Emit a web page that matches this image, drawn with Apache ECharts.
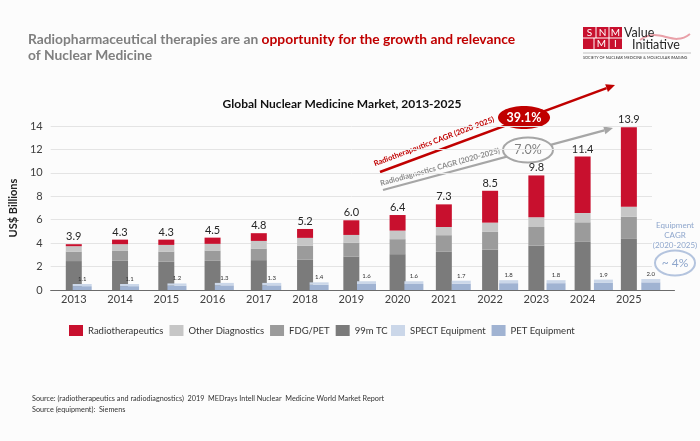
<!DOCTYPE html>
<html>
<head>
<meta charset="utf-8">
<script src="https://cdn.jsdelivr.net/npm/echarts@6/dist/echarts.min.js"></script>
<style>
html,body{margin:0;padding:0;background:#fcfcfc;}
#main{width:700px;height:441px;}
</style>
</head>
<body>
<div id="main"></div>
<script>
// ---- data ----
var years = ['2013','2014','2015','2016','2017','2018','2019','2020','2021','2022','2023','2024','2025'];
var tc99 = [2.47, 2.49, 2.41, 2.49, 2.55, 2.58, 2.86, 3.06, 3.26, 3.45, 3.79, 4.11, 4.36];
var fdgPet = [0.81, 0.88, 0.87, 0.88, 0.99, 1.21, 1.19, 1.28, 1.42, 1.51, 1.59, 1.67, 1.90];
var otherDiag = [0.46, 0.54, 0.57, 0.57, 0.65, 0.66, 0.65, 0.73, 0.70, 0.79, 0.83, 0.79, 0.85];
var radiotherapeutics = [0.17, 0.39, 0.45, 0.53, 0.66, 0.76, 1.25, 1.33, 1.93, 2.72, 3.57, 4.83, 6.78];
var marketTotals = [3.9, 4.3, 4.3, 4.5, 4.8, 5.2, 6.0, 6.4, 7.3, 8.5, 9.8, 11.4, 13.9];
var petEquip = [0.7, 0.7, 0.8, 0.85, 0.85, 0.95, 1.1, 1.1, 1.15, 1.25, 1.25, 1.3, 1.4];
var spectEquip = [0.4, 0.4, 0.4, 0.45, 0.45, 0.45, 0.5, 0.5, 0.55, 0.55, 0.55, 0.6, 0.6];
var equipTotals = [1.1, 1.1, 1.2, 1.3, 1.3, 1.4, 1.6, 1.6, 1.7, 1.8, 1.8, 1.9, 2.0];
var yTicks = [0, 2, 4, 6, 8, 10, 12, 14];

var F = 'Lato, "Open Sans", sans-serif';
var chart = echarts.init(document.getElementById('main'), null, {renderer: 'canvas'});

function arrowHead(x1, y1, x2, y2, len, hw) {
  var dx = x2 - x1, dy = y2 - y1, L = Math.sqrt(dx*dx + dy*dy);
  var ux = dx / L, uy = dy / L;
  var bx = x2 - ux*len, by = y2 - uy*len;
  var px = -uy*hw, py = ux*hw;
  return {tip: [x2, y2], base: [bx, by], pts: [[x2, y2], [bx+px, by+py], [bx-px, by-py]]};
}
var redA = arrowHead(380, 172, 615, 85, 9, 4);
var grayA = arrowHead(383, 190, 613, 128, 9, 4);

var option = {
  backgroundColor: '#fcfcfc',
  animation: false,
  textStyle: {fontFamily: F},
  grid: [
    {left: 36, right: 48, top: 126, bottom: 151},
    {left: 58.5, right: 25.5, top: 126, bottom: 151}
  ],
  xAxis: [
    {type: 'category', gridIndex: 0, data: years,
     axisLine: {lineStyle: {color: '#6b6b6b', width: 1}},
     axisTick: {show: false},
     axisLabel: {color: '#404040', fontSize: 11, margin: 4, fontFamily: F}},
    {type: 'category', gridIndex: 1, data: years,
     axisLine: {lineStyle: {color: '#6b6b6b', width: 1}},
     axisTick: {show: false}, axisLabel: {show: false}}
  ],
  yAxis: [
    {type: 'value', gridIndex: 0, min: yTicks[0], max: yTicks[yTicks.length-1], interval: 2,
     name: 'US$ Billions', nameLocation: 'middle', nameGap: 27, nameRotate: 90,
     nameTextStyle: {fontSize: 11, fontWeight: 'bold', color: '#222', fontFamily: F},
     axisLine: {show: false}, axisTick: {show: false},
     axisLabel: {color: '#404040', fontSize: 11, margin: 8, fontFamily: F},
     splitLine: {lineStyle: {color: '#e4e4e4', width: 1}}},
    {type: 'value', gridIndex: 1, min: 0, max: 30, show: false, splitLine: {show: false}}
  ],
  legend: [
    {left: 64, top: 320, itemWidth: 14, itemHeight: 11, itemGap: 6,
     icon: 'rect', textStyle: {fontSize: 9.5, color: '#333', fontFamily: F},
     data: ['Radiotherapeutics', 'Other Diagnostics', 'FDG/PET', '99m TC']},
    {left: 386, top: 320, itemWidth: 14, itemHeight: 11, itemGap: 6,
     icon: 'rect', textStyle: {fontSize: 9.5, color: '#333', fontFamily: F},
     data: ['SPECT Equipment', 'PET Equipment']}
  ],
  series: [
    {name: '99m TC', type: 'bar', stack: 'market', xAxisIndex: 0, yAxisIndex: 0,
     barWidth: 16, data: tc99, itemStyle: {color: '#7b7b7b'}},
    {name: 'FDG/PET', type: 'bar', stack: 'market', xAxisIndex: 0, yAxisIndex: 0,
     barWidth: 16, data: fdgPet, itemStyle: {color: '#9b9b9b'}},
    {name: 'Other Diagnostics', type: 'bar', stack: 'market', xAxisIndex: 0, yAxisIndex: 0,
     barWidth: 16, data: otherDiag, itemStyle: {color: '#c6c6c6'}},
    {name: 'Radiotherapeutics', type: 'bar', stack: 'market', xAxisIndex: 0, yAxisIndex: 0,
     barWidth: 16, data: radiotherapeutics, itemStyle: {color: '#c8102e'},
     label: {show: true, position: 'top', distance: 2, fontSize: 11, color: '#262626', fontFamily: F,
       formatter: function (p) { return marketTotals[p.dataIndex].toFixed(1); }}},
    {name: 'PET Equipment', type: 'bar', stack: 'equip', xAxisIndex: 1, yAxisIndex: 1,
     barWidth: 19, data: petEquip, itemStyle: {color: '#a0b3d2'}},
    {name: 'SPECT Equipment', type: 'bar', stack: 'equip', xAxisIndex: 1, yAxisIndex: 1,
     barWidth: 19, data: spectEquip, itemStyle: {color: '#cbd7e9'},
     label: {show: true, position: 'top', distance: 2, fontSize: 6, color: '#333', fontFamily: F,
       formatter: function (p) { return equipTotals[p.dataIndex].toFixed(1); }}}
  ],
  graphic: [
    // Headline
    {type: 'text', left: 28, top: 33, style: {
      text: '{g|Radiopharmaceutical therapies are an }{r|opportunity for the growth and relevance}',
      rich: {
        g: {fontFamily: F, fontSize: 13.8, fontWeight: 'bold', fill: '#7f7f7f'},
        r: {fontFamily: F, fontSize: 13.8, fontWeight: 'bold', fill: '#c00000'}
      }}},
    {type: 'text', left: 28, top: 49, style: {
      text: 'of Nuclear Medicine', fontFamily: F, fontSize: 13.8, fontWeight: 'bold', fill: '#7f7f7f'}},
    // Chart title
    {type: 'text', x: 342, y: 104, style: {
      text: 'Global Nuclear Medicine Market, 2013-2025', fontFamily: F, fontSize: 12, fontWeight: 'bold',
      fill: '#111', align: 'center', verticalAlign: 'middle'}},
    // Logo
    {type: 'rect', shape: {x: 583, y: 27, width: 39, height: 22}, style: {fill: '#c8102e'}},
    {type: 'line', shape: {x1: 583, y1: 38, x2: 622, y2: 38}, style: {stroke: '#fff', lineWidth: 1}},
    {type: 'line', shape: {x1: 596, y1: 27, x2: 596, y2: 38}, style: {stroke: '#fff', lineWidth: 1}},
    {type: 'line', shape: {x1: 609, y1: 27, x2: 609, y2: 49}, style: {stroke: '#fff', lineWidth: 1}},
    {type: 'line', shape: {x1: 594, y1: 38, x2: 594, y2: 49}, style: {stroke: '#fff', lineWidth: 1}},
    {type: 'text', x: 589.5, y: 33, style: {text: 'S', fontFamily: F, fontSize: 10, fill: '#fff', align: 'center', verticalAlign: 'middle'}},
    {type: 'text', x: 602.5, y: 33, style: {text: 'N', fontFamily: F, fontSize: 10, fill: '#fff', align: 'center', verticalAlign: 'middle'}},
    {type: 'text', x: 615.5, y: 33, style: {text: 'M', fontFamily: F, fontSize: 10, fill: '#fff', align: 'center', verticalAlign: 'middle'}},
    {type: 'text', x: 601.5, y: 44, style: {text: 'M', fontFamily: F, fontSize: 10, fill: '#fff', align: 'center', verticalAlign: 'middle'}},
    {type: 'text', x: 615.5, y: 44, style: {text: 'I', fontFamily: F, fontSize: 10, fill: '#fff', align: 'center', verticalAlign: 'middle'}},
    {type: 'bezierCurve', shape: {x1: 640, y1: 40, x2: 690, y2: 34, cpx1: 660, cpy1: 26, cpx2: 672, cpy2: 48},
     style: {stroke: '#e9a0a8', lineWidth: 2, fill: null}},
    {type: 'text', left: 624, top: 26, style: {text: 'Value', fontFamily: F, fontSize: 12.5, fill: '#262626'}},
    {type: 'text', left: 632, top: 38, style: {text: 'Initiative', fontFamily: F, fontSize: 12.5, fill: '#262626'}},
    {type: 'line', shape: {x1: 583, y1: 53, x2: 691, y2: 53}, style: {stroke: '#999', lineWidth: 0.6}},
    {type: 'text', left: 583, top: 55.5, style: {text: 'SOCIETY OF NUCLEAR MEDICINE & MOLECULAR IMAGING', fontFamily: F, fontSize: 3.8, fill: '#333'}},
    // Red arrow
    {type: 'line', shape: {x1: 380, y1: 172, x2: redA.base[0], y2: redA.base[1]}, style: {stroke: '#c00000', lineWidth: 2.5}},
    {type: 'polygon', shape: {points: redA.pts}, style: {fill: '#c00000'}},
    // Gray arrow
    {type: 'line', shape: {x1: 383, y1: 190, x2: grayA.base[0], y2: grayA.base[1]}, style: {stroke: '#a6a6a6', lineWidth: 2.2}},
    {type: 'polygon', shape: {points: grayA.pts}, style: {fill: '#a6a6a6'}},
    // Rotated labels
    {type: 'text', x: 434, y: 141.5, rotation: 20.5 * Math.PI / 180, style: {
      text: 'Radiotherapeutics CAGR (2020-2025)', fontFamily: F, fontSize: 7.6, fontWeight: 'bold',
      fill: '#c00000', align: 'center', verticalAlign: 'middle'}},
    {type: 'text', x: 440, y: 167, rotation: 15.5 * Math.PI / 180, style: {
      text: 'Radiodiagnostics CAGR (2020-2025)', fontFamily: F, fontSize: 7.6, fontWeight: 'bold',
      fill: '#8c8c8c', align: 'center', verticalAlign: 'middle'}},
    // Ellipses
    {type: 'ellipse', shape: {cx: 524, cy: 117.5, rx: 26, ry: 11.5}, style: {fill: '#c00000'}},
    {type: 'text', x: 524, y: 117.5, style: {text: '39.1%', fontFamily: F, fontSize: 12.5, fontWeight: 'bold', fill: '#fff', align: 'center', verticalAlign: 'middle'}},
    {type: 'ellipse', shape: {cx: 528, cy: 150, rx: 25, ry: 12.5}, style: {fill: '#fcfcfc', stroke: '#a6a6a6', lineWidth: 2}},
    {type: 'text', x: 528, y: 150, style: {text: '7.0%', fontFamily: F, fontSize: 12.5, fill: '#7f7f7f', align: 'center', verticalAlign: 'middle'}},
    // Equipment CAGR
    {type: 'text', x: 675, y: 225, style: {text: 'Equipment', fontFamily: F, fontSize: 8, fill: '#8ea6cc', align: 'center', verticalAlign: 'middle'}},
    {type: 'text', x: 675, y: 235, style: {text: 'CAGR', fontFamily: F, fontSize: 8, fill: '#8ea6cc', align: 'center', verticalAlign: 'middle'}},
    {type: 'text', x: 675, y: 245, style: {text: '(2020-2025)', fontFamily: F, fontSize: 8, fill: '#8ea6cc', align: 'center', verticalAlign: 'middle'}},
    {type: 'ellipse', shape: {cx: 675, cy: 263, rx: 20, ry: 12.5}, style: {fill: 'none', stroke: '#b4c4de', lineWidth: 2}},
    {type: 'text', x: 675, y: 263, style: {text: '~ 4%', fontFamily: F, fontSize: 12, fill: '#8ea6cc', align: 'center', verticalAlign: 'middle'}},
    // Sources
    {type: 'text', left: 32, top: 395.5, style: {text: 'Source: (radiotherapeutics and radiodiagnostics)  2019  MEDrays Intell Nuclear  Medicine World Market Report', fontFamily: F, fontSize: 7.25, fill: '#333'}},
    {type: 'text', left: 32, top: 406, style: {text: 'Source (equipment):  Siemens', fontFamily: F, fontSize: 7.25, fill: '#333'}}
  ]
};
chart.setOption(option);
</script>
</body>
</html>
